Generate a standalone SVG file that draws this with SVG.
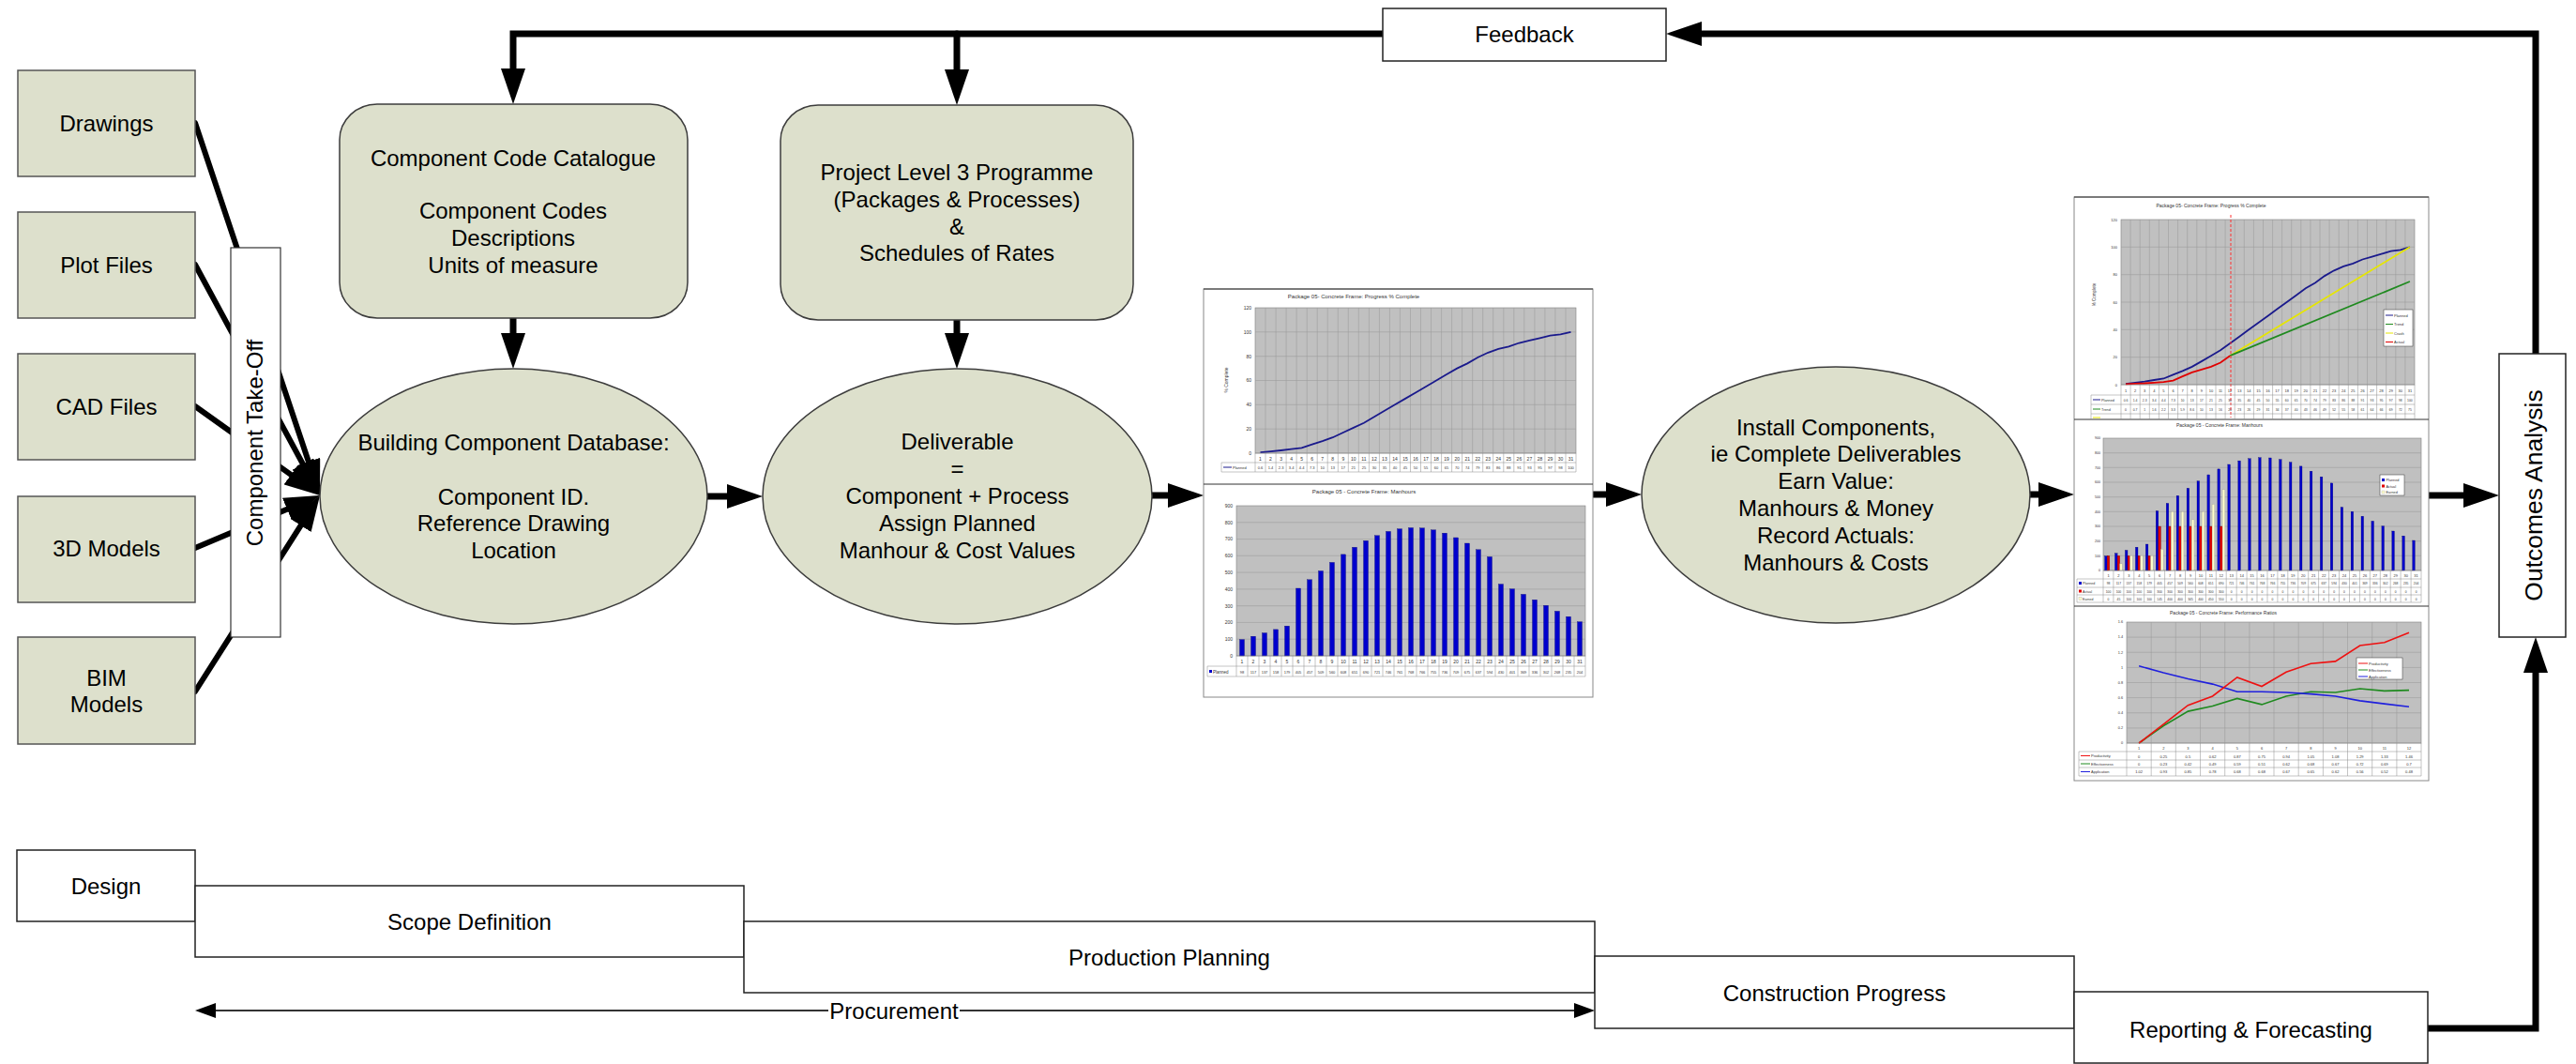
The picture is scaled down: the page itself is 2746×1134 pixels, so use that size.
<svg xmlns="http://www.w3.org/2000/svg" width="2746" height="1134" viewBox="0 0 2746 1134">
<defs>
<style>
.node{fill:#dde0cc;stroke:#3c3c3c;stroke-width:1.5}
.src{fill:#dde0cc;stroke:#555;stroke-width:1.5}
.box{fill:#fff;stroke:#222;stroke-width:1.5}
.lbl{font-family:"Liberation Sans",Arial,sans-serif;font-size:24px;fill:#000;text-anchor:middle}
.conn{fill:none;stroke:#000;stroke-width:7;stroke-linejoin:miter;stroke-linecap:round}
.thin{fill:none;stroke:#333;stroke-width:2}
.frame{fill:#fff;stroke:#888;stroke-width:1}
.pa{fill:#c0c0c0;stroke:#808080;stroke-width:0.6}
.grid{fill:none;stroke:#9c9c9c;stroke-width:0.6}
.tl{fill:none;stroke:#8a8a8a;stroke-width:0.5}
.ct{font-family:"Liberation Sans",Arial,sans-serif;fill:#333;text-anchor:middle}
.ax{font-family:"Liberation Sans",Arial,sans-serif;fill:#333;text-anchor:end}
.lg{font-family:"Liberation Sans",Arial,sans-serif;fill:#333;text-anchor:start}
.bp{fill:#0000cc;stroke:#000066;stroke-width:0.3}
.ba{fill:#e00000;stroke:#600000;stroke-width:0.3}
.be{fill:#ffffcc;stroke:#999;stroke-width:0.3}
</style>
<marker id="ah" markerUnits="userSpaceOnUse" markerWidth="38" markerHeight="26" viewBox="0 0 38 26" refX="0" refY="13" orient="auto"><path d="M0,0L38,13L0,26z" fill="#000"/></marker>
<marker id="ahsE" markerUnits="userSpaceOnUse" markerWidth="22" markerHeight="16" viewBox="0 0 22 16" refX="0" refY="8" orient="auto"><path d="M0,0L22,8L0,16z" fill="#000"/></marker>
<marker id="ahsS" markerUnits="userSpaceOnUse" markerWidth="22" markerHeight="16" viewBox="0 0 22 16" refX="22" refY="8" orient="auto"><path d="M22,0L0,8L22,16z" fill="#000"/></marker>
</defs>
<rect width="2746" height="1134" fill="#fff"/>

<g id="connectors">
<path class="conn" d="M1474,36H547V73" marker-end="url(#ah)"/>
<path class="conn" d="M1020,36V74" marker-end="url(#ah)"/>
<path class="conn" d="M2703,377V36H1814" marker-end="url(#ah)"/>
<path class="conn" d="M2588,1096H2703V717" marker-end="url(#ah)"/>
<path class="conn" d="M547,339V355" marker-end="url(#ah)"/>
<path class="conn" d="M1020,341V355" marker-end="url(#ah)"/>
<path class="conn" d="M754,529H775" marker-end="url(#ah)"/>
<path class="conn" d="M1228,528H1245" marker-end="url(#ah)"/>
<path class="conn" d="M1698,527H1712" marker-end="url(#ah)"/>
<path class="conn" d="M2164,527H2173" marker-end="url(#ah)"/>
<path class="conn" d="M2589,528H2626" marker-end="url(#ah)"/>
<path class="conn" style="stroke-width:6" d="M208,131L328.9,492" marker-end="url(#ah)"/>
<path class="conn" style="stroke-width:6" d="M208,282L322.9,494.6" marker-end="url(#ah)"/>
<path class="conn" style="stroke-width:6" d="M208,433L310.1,505.9" marker-end="url(#ah)"/>
<path class="conn" style="stroke-width:6" d="M208,584L306,542.7" marker-end="url(#ah)"/>
<path class="conn" style="stroke-width:6" d="M208,737L320.6,560.1" marker-end="url(#ah)"/>
<path class="thin" d="M230,1077H1678" marker-start="url(#ahsS)" marker-end="url(#ahsE)"/>
<rect x="883" y="1063" width="140" height="28" fill="#fff"/>
<text class="lbl" x="953" y="1085.5">Procurement</text>
</g>

<g id="drawings"><rect class="src" x="19" y="75" width="189" height="113"/><text class="lbl" x="113.5" y="139.5">Drawings</text></g>
<g id="plot-files"><rect class="src" x="19" y="226" width="189" height="113"/><text class="lbl" x="113.5" y="290.5">Plot Files</text></g>
<g id="cad-files"><rect class="src" x="19" y="377" width="189" height="113"/><text class="lbl" x="113.5" y="441.5">CAD Files</text></g>
<g id="models-3d"><rect class="src" x="19" y="529" width="189" height="113"/><text class="lbl" x="113.5" y="592.5">3D Models</text></g>
<g id="bim-models"><rect class="src" x="19" y="679" width="189" height="114"/><text class="lbl" x="113.5" y="730.5">BIM</text><text class="lbl" x="113.5" y="758.5">Models</text></g>

<g id="take-off"><rect class="box" x="246" y="264" width="53" height="415" style="stroke:#333;stroke-width:1.2"/><text class="lbl" transform="translate(280,472) rotate(-90)">Component Take-Off</text></g>

<g id="catalogue"><rect class="node" x="362" y="111" width="371" height="228" rx="40" ry="38"/>
<text class="lbl" x="547" y="176.5">Component Code Catalogue</text>
<text class="lbl" x="547" y="232.5">Component Codes</text>
<text class="lbl" x="547" y="261.5">Descriptions</text>
<text class="lbl" x="547" y="291">Units of measure</text></g>

<g id="programme"><rect class="node" x="832" y="112" width="376" height="229" rx="40" ry="38"/>
<text class="lbl" x="1020" y="191.5">Project Level 3 Programme</text>
<text class="lbl" x="1020" y="220.5">(Packages &amp; Processes)</text>
<text class="lbl" x="1020" y="249.5">&amp;</text>
<text class="lbl" x="1020" y="277.5">Schedules of Rates</text></g>

<g id="component-db"><ellipse class="node" cx="547.5" cy="529" rx="206.5" ry="136"/>
<text class="lbl" x="547.5" y="479.5">Building Component Database:</text>
<text class="lbl" x="547.5" y="537.5">Component ID.</text>
<text class="lbl" x="547.5" y="565.5">Reference Drawing</text>
<text class="lbl" x="547.5" y="594.5">Location</text></g>

<g id="deliverable"><ellipse class="node" cx="1020.5" cy="529" rx="207.5" ry="136"/>
<text class="lbl" x="1020.5" y="478.5">Deliverable</text>
<text class="lbl" x="1020.5" y="507.5">=</text>
<text class="lbl" x="1020.5" y="536.5">Component + Process</text>
<text class="lbl" x="1020.5" y="565.5">Assign Planned</text>
<text class="lbl" x="1020.5" y="594.5">Manhour &amp; Cost Values</text></g>

<g id="install"><ellipse class="node" cx="1957" cy="527.5" rx="207" ry="136.5"/>
<text class="lbl" x="1957" y="463.5">Install Components,</text>
<text class="lbl" x="1957" y="492">ie Complete Deliverables</text>
<text class="lbl" x="1957" y="521">Earn Value:</text>
<text class="lbl" x="1957" y="550">Manhours &amp; Money</text>
<text class="lbl" x="1957" y="579">Record Actuals:</text>
<text class="lbl" x="1957" y="607.5">Manhours &amp; Costs</text></g>

<g id="feedback"><rect class="box" x="1474" y="9" width="302" height="56"/><text class="lbl" x="1625" y="44.5">Feedback</text></g>
<g id="outcomes"><rect class="box" x="2664" y="377" width="71" height="302"/><text class="lbl" style="font-size:26.5px" transform="translate(2710,528) rotate(-90)">Outcomes Analysis</text></g>

<g id="design"><rect class="box" x="18" y="906" width="190" height="76"/><text class="lbl" x="113" y="952.5">Design</text></g>
<g id="scope"><rect class="box" x="208" y="944" width="585" height="76"/><text class="lbl" x="500.5" y="990.5">Scope Definition</text></g>
<g id="production"><rect class="box" x="793" y="982" width="907" height="76"/><text class="lbl" x="1246.5" y="1028.5">Production Planning</text></g>
<g id="construction"><rect class="box" x="1700" y="1019" width="511" height="77"/><text class="lbl" x="1955.5" y="1066.5">Construction Progress</text></g>
<g id="reporting"><rect class="box" x="2211" y="1057" width="377" height="76"/><text class="lbl" x="2399.5" y="1105.5">Reporting &amp; Forecasting</text></g>

<g id="planned-charts">
<rect class="frame" x="1283" y="308" width="415" height="435"/>
<path d="M1283,308H1698M1283,516H1698" stroke="#333" stroke-width="1.2"/>
<text class="ct" x="1443" y="318" font-size="6">Package 05- Concrete Frame: Progress % Complete</text>
<rect class="pa" x="1338" y="328" width="342" height="155"/>
<path class="grid" d="M1338,457.2H1680M1338,431.3H1680M1338,405.5H1680M1338,379.7H1680M1338,353.8H1680M1349,328V483M1360.1,328V483M1371.1,328V483M1382.1,328V483M1393.2,328V483M1404.2,328V483M1415.2,328V483M1426.3,328V483M1437.3,328V483M1448.3,328V483M1459.4,328V483M1470.4,328V483M1481.4,328V483M1492.4,328V483M1503.5,328V483M1514.5,328V483M1525.5,328V483M1536.6,328V483M1547.6,328V483M1558.6,328V483M1569.7,328V483M1580.7,328V483M1591.7,328V483M1602.8,328V483M1613.8,328V483M1624.8,328V483M1635.9,328V483M1646.9,328V483M1657.9,328V483M1669,328V483"/>
<text class="ax" font-size="5"><tspan x="1334" y="484.8">0</tspan><tspan x="1334" y="459">20</tspan><tspan x="1334" y="433.1">40</tspan><tspan x="1334" y="407.3">60</tspan><tspan x="1334" y="381.5">80</tspan><tspan x="1334" y="355.6">100</tspan><tspan x="1334" y="329.8">120</tspan></text>
<text class="ct" font-size="5" transform="translate(1309,405) rotate(-90)">% Complete</text>
<polyline fill="none" stroke="#1a1a8c" stroke-width="1.8" points="1343.5,482.2 1354.5,481.2 1365.6,480 1376.6,478.6 1387.6,477.3 1398.7,473.6 1409.7,470.1 1420.7,466.2 1431.8,461 1442.8,455.9 1453.9,450.7 1464.9,444.2 1475.9,437.8 1487,431.3 1498,424.9 1509,418.4 1520.1,412 1531.1,405.5 1542.1,399 1553.2,392.6 1564.2,387.4 1575.2,381 1586.3,375.8 1597.3,371.9 1608.3,369.3 1619.4,365.5 1630.4,362.9 1641.5,360.3 1652.5,357.7 1663.5,356.4 1674.5,353.8"/>
<path class="tl" d="M1338,483H1680M1302,493H1680M1302,503H1680M1302,493V503M1338,483V503M1349,483V503M1360.1,483V503M1371.1,483V503M1382.1,483V503M1393.2,483V503M1404.2,483V503M1415.2,483V503M1426.3,483V503M1437.3,483V503M1448.3,483V503M1459.4,483V503M1470.4,483V503M1481.4,483V503M1492.4,483V503M1503.5,483V503M1514.5,483V503M1525.5,483V503M1536.6,483V503M1547.6,483V503M1558.6,483V503M1569.7,483V503M1580.7,483V503M1591.7,483V503M1602.8,483V503M1613.8,483V503M1624.8,483V503M1635.9,483V503M1646.9,483V503M1657.9,483V503M1669,483V503M1680,483V503"/>
<path d="M1304,498H1313" stroke="#1a1a8c" stroke-width="1"/>
<text class="lg" x="1314" y="500" font-size="4">Planned</text>
<text class="ct" font-size="5"><tspan x="1343.5" y="490.5">1</tspan><tspan x="1354.5" y="490.5">2</tspan><tspan x="1365.6" y="490.5">3</tspan><tspan x="1376.6" y="490.5">4</tspan><tspan x="1387.6" y="490.5">5</tspan><tspan x="1398.7" y="490.5">6</tspan><tspan x="1409.7" y="490.5">7</tspan><tspan x="1420.7" y="490.5">8</tspan><tspan x="1431.8" y="490.5">9</tspan><tspan x="1442.8" y="490.5">10</tspan><tspan x="1453.9" y="490.5">11</tspan><tspan x="1464.9" y="490.5">12</tspan><tspan x="1475.9" y="490.5">13</tspan><tspan x="1487" y="490.5">14</tspan><tspan x="1498" y="490.5">15</tspan><tspan x="1509" y="490.5">16</tspan><tspan x="1520.1" y="490.5">17</tspan><tspan x="1531.1" y="490.5">18</tspan><tspan x="1542.1" y="490.5">19</tspan><tspan x="1553.2" y="490.5">20</tspan><tspan x="1564.2" y="490.5">21</tspan><tspan x="1575.2" y="490.5">22</tspan><tspan x="1586.3" y="490.5">23</tspan><tspan x="1597.3" y="490.5">24</tspan><tspan x="1608.3" y="490.5">25</tspan><tspan x="1619.4" y="490.5">26</tspan><tspan x="1630.4" y="490.5">27</tspan><tspan x="1641.5" y="490.5">28</tspan><tspan x="1652.5" y="490.5">29</tspan><tspan x="1663.5" y="490.5">30</tspan><tspan x="1674.5" y="490.5">31</tspan></text>
<text class="ct" font-size="4"><tspan x="1343.5" y="500">0.6</tspan><tspan x="1354.5" y="500">1.4</tspan><tspan x="1365.6" y="500">2.3</tspan><tspan x="1376.6" y="500">3.4</tspan><tspan x="1387.6" y="500">4.4</tspan><tspan x="1398.7" y="500">7.3</tspan><tspan x="1409.7" y="500">10</tspan><tspan x="1420.7" y="500">13</tspan><tspan x="1431.8" y="500">17</tspan><tspan x="1442.8" y="500">21</tspan><tspan x="1453.9" y="500">25</tspan><tspan x="1464.9" y="500">30</tspan><tspan x="1475.9" y="500">35</tspan><tspan x="1487" y="500">40</tspan><tspan x="1498" y="500">45</tspan><tspan x="1509" y="500">50</tspan><tspan x="1520.1" y="500">55</tspan><tspan x="1531.1" y="500">60</tspan><tspan x="1542.1" y="500">65</tspan><tspan x="1553.2" y="500">70</tspan><tspan x="1564.2" y="500">74</tspan><tspan x="1575.2" y="500">79</tspan><tspan x="1586.3" y="500">83</tspan><tspan x="1597.3" y="500">86</tspan><tspan x="1608.3" y="500">88</tspan><tspan x="1619.4" y="500">91</tspan><tspan x="1630.4" y="500">93</tspan><tspan x="1641.5" y="500">95</tspan><tspan x="1652.5" y="500">97</tspan><tspan x="1663.5" y="500">98</tspan><tspan x="1674.5" y="500">100</tspan></text>

<text class="ct" x="1454" y="526" font-size="6">Package 05 - Concrete Frame: Manhours</text>
<rect class="pa" x="1318" y="539" width="372" height="160"/>
<path class="grid" d="M1318,681.2H1690M1318,663.4H1690M1318,645.7H1690M1318,627.9H1690M1318,610.1H1690M1318,592.3H1690M1318,574.6H1690M1318,556.8H1690"/>
<text class="ax" font-size="5"><tspan x="1314" y="700.8">0</tspan><tspan x="1314" y="683">100</tspan><tspan x="1314" y="665.2">200</tspan><tspan x="1314" y="647.5">300</tspan><tspan x="1314" y="629.7">400</tspan><tspan x="1314" y="611.9">500</tspan><tspan x="1314" y="594.1">600</tspan><tspan x="1314" y="576.4">700</tspan><tspan x="1314" y="558.6">800</tspan><tspan x="1314" y="540.8">900</tspan></text>
<g>
<rect class="bp" x="1321.5" y="681.6" width="5" height="17.4"/><rect class="bp" x="1333.5" y="678.2" width="5" height="20.8"/><rect class="bp" x="1345.5" y="674.6" width="5" height="24.4"/><rect class="bp" x="1357.5" y="670.9" width="5" height="28.1"/><rect class="bp" x="1369.5" y="667.2" width="5" height="31.8"/><rect class="bp" x="1381.5" y="627" width="5" height="72"/><rect class="bp" x="1393.5" y="617.8" width="5" height="81.2"/><rect class="bp" x="1405.5" y="608.5" width="5" height="90.5"/><rect class="bp" x="1417.5" y="599.4" width="5" height="99.6"/><rect class="bp" x="1429.5" y="590.9" width="5" height="108.1"/><rect class="bp" x="1441.5" y="583.3" width="5" height="115.7"/><rect class="bp" x="1453.5" y="576.3" width="5" height="122.7"/><rect class="bp" x="1465.5" y="570.8" width="5" height="128.2"/><rect class="bp" x="1477.5" y="566.4" width="5" height="132.6"/><rect class="bp" x="1489.5" y="563.7" width="5" height="135.3"/><rect class="bp" x="1501.5" y="562.5" width="5" height="136.5"/><rect class="bp" x="1513.5" y="562.8" width="5" height="136.2"/><rect class="bp" x="1525.5" y="564.8" width="5" height="134.2"/><rect class="bp" x="1537.5" y="568.2" width="5" height="130.8"/><rect class="bp" x="1549.5" y="573" width="5" height="126"/><rect class="bp" x="1561.5" y="579" width="5" height="120"/><rect class="bp" x="1573.5" y="585.8" width="5" height="113.2"/><rect class="bp" x="1585.5" y="593.4" width="5" height="105.6"/><rect class="bp" x="1597.5" y="622.6" width="5" height="76.4"/><rect class="bp" x="1609.5" y="627.7" width="5" height="71.3"/><rect class="bp" x="1621.5" y="633.4" width="5" height="65.6"/><rect class="bp" x="1633.5" y="639.3" width="5" height="59.7"/><rect class="bp" x="1645.5" y="645.3" width="5" height="53.7"/><rect class="bp" x="1657.5" y="651.4" width="5" height="47.6"/><rect class="bp" x="1669.5" y="657.2" width="5" height="41.8"/><rect class="bp" x="1681.5" y="662.7" width="5" height="36.3"/>
</g>
<path class="tl" d="M1318,699H1690M1287,710H1690M1287,721H1690M1287,710V721M1318,699V721M1330,699V721M1342,699V721M1354,699V721M1366,699V721M1378,699V721M1390,699V721M1402,699V721M1414,699V721M1426,699V721M1438,699V721M1450,699V721M1462,699V721M1474,699V721M1486,699V721M1498,699V721M1510,699V721M1522,699V721M1534,699V721M1546,699V721M1558,699V721M1570,699V721M1582,699V721M1594,699V721M1606,699V721M1618,699V721M1630,699V721M1642,699V721M1654,699V721M1666,699V721M1678,699V721M1690,699V721"/>
<rect x="1289" y="714" width="3" height="3" fill="#0000cc"/>
<text class="lg" x="1293" y="717.5" font-size="4.5">Planned</text>
<text class="ct" font-size="5"><tspan x="1324" y="707">1</tspan><tspan x="1336" y="707">2</tspan><tspan x="1348" y="707">3</tspan><tspan x="1360" y="707">4</tspan><tspan x="1372" y="707">5</tspan><tspan x="1384" y="707">6</tspan><tspan x="1396" y="707">7</tspan><tspan x="1408" y="707">8</tspan><tspan x="1420" y="707">9</tspan><tspan x="1432" y="707">10</tspan><tspan x="1444" y="707">11</tspan><tspan x="1456" y="707">12</tspan><tspan x="1468" y="707">13</tspan><tspan x="1480" y="707">14</tspan><tspan x="1492" y="707">15</tspan><tspan x="1504" y="707">16</tspan><tspan x="1516" y="707">17</tspan><tspan x="1528" y="707">18</tspan><tspan x="1540" y="707">19</tspan><tspan x="1552" y="707">20</tspan><tspan x="1564" y="707">21</tspan><tspan x="1576" y="707">22</tspan><tspan x="1588" y="707">23</tspan><tspan x="1600" y="707">24</tspan><tspan x="1612" y="707">25</tspan><tspan x="1624" y="707">26</tspan><tspan x="1636" y="707">27</tspan><tspan x="1648" y="707">28</tspan><tspan x="1660" y="707">29</tspan><tspan x="1672" y="707">30</tspan><tspan x="1684" y="707">31</tspan></text>
<text class="ct" font-size="4"><tspan x="1324" y="717.5">98</tspan><tspan x="1336" y="717.5">117</tspan><tspan x="1348" y="717.5">137</tspan><tspan x="1360" y="717.5">158</tspan><tspan x="1372" y="717.5">179</tspan><tspan x="1384" y="717.5">405</tspan><tspan x="1396" y="717.5">457</tspan><tspan x="1408" y="717.5">509</tspan><tspan x="1420" y="717.5">560</tspan><tspan x="1432" y="717.5">608</tspan><tspan x="1444" y="717.5">651</tspan><tspan x="1456" y="717.5">690</tspan><tspan x="1468" y="717.5">721</tspan><tspan x="1480" y="717.5">746</tspan><tspan x="1492" y="717.5">761</tspan><tspan x="1504" y="717.5">768</tspan><tspan x="1516" y="717.5">766</tspan><tspan x="1528" y="717.5">755</tspan><tspan x="1540" y="717.5">736</tspan><tspan x="1552" y="717.5">709</tspan><tspan x="1564" y="717.5">675</tspan><tspan x="1576" y="717.5">637</tspan><tspan x="1588" y="717.5">594</tspan><tspan x="1600" y="717.5">430</tspan><tspan x="1612" y="717.5">401</tspan><tspan x="1624" y="717.5">369</tspan><tspan x="1636" y="717.5">336</tspan><tspan x="1648" y="717.5">302</tspan><tspan x="1660" y="717.5">268</tspan><tspan x="1672" y="717.5">235</tspan><tspan x="1684" y="717.5">204</tspan></text>
</g>

<g id="actual-charts">
<rect class="frame" x="2211" y="210" width="378" height="622"/>
<path d="M2211,210H2589M2211,447H2589M2211,646H2589" stroke="#333" stroke-width="1.2"/>
<text class="ct" x="2357" y="221" font-size="5">Package 05- Concrete Frame: Progress % Complete</text>
<rect class="pa" x="2261" y="234" width="313" height="176"/>
<path class="grid" d="M2261,380.7H2574M2261,351.3H2574M2261,322H2574M2261,292.7H2574M2261,263.3H2574M2271.1,234V410M2281.2,234V410M2291.3,234V410M2301.4,234V410M2311.5,234V410M2321.6,234V410M2331.7,234V410M2341.8,234V410M2351.9,234V410M2362,234V410M2372.1,234V410M2382.2,234V410M2392.3,234V410M2402.4,234V410M2412.5,234V410M2422.6,234V410M2432.6,234V410M2442.7,234V410M2452.8,234V410M2462.9,234V410M2473,234V410M2483.1,234V410M2493.2,234V410M2503.3,234V410M2513.4,234V410M2523.5,234V410M2533.6,234V410M2543.7,234V410M2553.8,234V410M2563.9,234V410"/>
<text class="ax" font-size="4"><tspan x="2257" y="411.5">0</tspan><tspan x="2257" y="382.2">20</tspan><tspan x="2257" y="352.8">40</tspan><tspan x="2257" y="323.5">60</tspan><tspan x="2257" y="294.2">80</tspan><tspan x="2257" y="264.8">100</tspan><tspan x="2257" y="235.5">120</tspan></text>
<text class="ct" font-size="4.5" transform="translate(2234,314) rotate(-90)">% Complete</text>
<polyline fill="none" stroke="#1a1a8c" stroke-width="1.8" points="2266,409.1 2276.1,407.9 2286.2,406.6 2296.3,405 2306.4,403.5 2316.5,399.3 2326.6,395.3 2336.7,390.9 2346.8,385.1 2356.9,379.2 2367,373.3 2377.1,366 2387.2,358.7 2397.3,351.3 2407.4,344 2417.5,336.7 2427.6,329.3 2437.7,322 2447.7,314.7 2457.8,307.3 2467.9,301.5 2478,294.1 2488.1,288.3 2498.2,283.9 2508.3,280.9 2518.4,276.5 2528.5,273.6 2538.6,270.7 2548.7,267.7 2558.8,266.3 2568.9,263.3"/>
<polyline fill="none" stroke="#e6e600" stroke-width="1.8" points="2377.1,379.2 2568.9,263.3"/>
<polyline fill="none" stroke="#1f8a1f" stroke-width="1.8" points="2377.1,379.2 2568.9,300"/>
<polyline fill="none" stroke="#e00000" stroke-width="1.8" points="2266,409.3 2276.1,408.8 2286.2,408.5 2296.3,407.8 2306.4,407.1 2316.5,405.6 2326.6,401.2 2336.7,396.8 2346.8,393.9 2356.9,390.9 2367,386.5 2377.1,379.2"/>
<path d="M2378,229V445" stroke="#ff3030" stroke-width="1" stroke-dasharray="3,2"/>
<rect x="2541" y="330" width="31" height="39" fill="#fff" stroke="#333" stroke-width="0.5"/>
<path d="M2543,336H2551" stroke="#1a1a8c" stroke-width="1"/><path d="M2543,345.5H2551" stroke="#1f8a1f" stroke-width="1"/><path d="M2543,355H2551" stroke="#e6e600" stroke-width="1"/><path d="M2543,364.5H2551" stroke="#e00000" stroke-width="1"/>
<text class="lg" font-size="4"><tspan x="2552" y="337.5">Planned</tspan><tspan x="2552" y="347">Trend</tspan><tspan x="2552" y="356.5">Crash</tspan><tspan x="2552" y="366">Actual</tspan></text>
<path class="tl" d="M2261,410H2574M2229,421H2574M2229,431H2574M2229,441H2574M2229,421V447M2261,410V447M2271.1,410V447M2281.2,410V447M2291.3,410V447M2301.4,410V447M2311.5,410V447M2321.6,410V447M2331.7,410V447M2341.8,410V447M2351.9,410V447M2362,410V447M2372.1,410V447M2382.2,410V447M2392.3,410V447M2402.4,410V447M2412.5,410V447M2422.6,410V447M2432.6,410V447M2442.7,410V447M2452.8,410V447M2462.9,410V447M2473,410V447M2483.1,410V447M2493.2,410V447M2503.3,410V447M2513.4,410V447M2523.5,410V447M2533.6,410V447M2543.7,410V447M2553.8,410V447M2563.9,410V447M2574,410V447"/>
<path d="M2231,426H2239" stroke="#1a1a8c" stroke-width="1"/><path d="M2231,436H2239" stroke="#1f8a1f" stroke-width="1"/><path d="M2231,445H2239" stroke="#e6e600" stroke-width="1"/>
<text class="lg" font-size="3.8"><tspan x="2240" y="427.5">Planned</tspan><tspan x="2240" y="437.5">Trend</tspan></text>
<text class="ct" font-size="4"><tspan x="2266" y="417.5">1</tspan><tspan x="2276.1" y="417.5">2</tspan><tspan x="2286.2" y="417.5">3</tspan><tspan x="2296.3" y="417.5">4</tspan><tspan x="2306.4" y="417.5">5</tspan><tspan x="2316.5" y="417.5">6</tspan><tspan x="2326.6" y="417.5">7</tspan><tspan x="2336.7" y="417.5">8</tspan><tspan x="2346.8" y="417.5">9</tspan><tspan x="2356.9" y="417.5">10</tspan><tspan x="2367" y="417.5">11</tspan><tspan x="2377.1" y="417.5">12</tspan><tspan x="2387.2" y="417.5">13</tspan><tspan x="2397.3" y="417.5">14</tspan><tspan x="2407.4" y="417.5">15</tspan><tspan x="2417.5" y="417.5">16</tspan><tspan x="2427.6" y="417.5">17</tspan><tspan x="2437.7" y="417.5">18</tspan><tspan x="2447.7" y="417.5">19</tspan><tspan x="2457.8" y="417.5">20</tspan><tspan x="2467.9" y="417.5">21</tspan><tspan x="2478" y="417.5">22</tspan><tspan x="2488.1" y="417.5">23</tspan><tspan x="2498.2" y="417.5">24</tspan><tspan x="2508.3" y="417.5">25</tspan><tspan x="2518.4" y="417.5">26</tspan><tspan x="2528.5" y="417.5">27</tspan><tspan x="2538.6" y="417.5">28</tspan><tspan x="2548.7" y="417.5">29</tspan><tspan x="2558.8" y="417.5">30</tspan><tspan x="2568.9" y="417.5">31</tspan></text>
<text class="ct" font-size="3.4"><tspan x="2266" y="427.5">0.6</tspan><tspan x="2276.1" y="427.5">1.4</tspan><tspan x="2286.2" y="427.5">2.3</tspan><tspan x="2296.3" y="427.5">3.4</tspan><tspan x="2306.4" y="427.5">4.4</tspan><tspan x="2316.5" y="427.5">7.3</tspan><tspan x="2326.6" y="427.5">10</tspan><tspan x="2336.7" y="427.5">13</tspan><tspan x="2346.8" y="427.5">17</tspan><tspan x="2356.9" y="427.5">21</tspan><tspan x="2367" y="427.5">25</tspan><tspan x="2377.1" y="427.5">30</tspan><tspan x="2387.2" y="427.5">35</tspan><tspan x="2397.3" y="427.5">40</tspan><tspan x="2407.4" y="427.5">45</tspan><tspan x="2417.5" y="427.5">50</tspan><tspan x="2427.6" y="427.5">55</tspan><tspan x="2437.7" y="427.5">60</tspan><tspan x="2447.7" y="427.5">65</tspan><tspan x="2457.8" y="427.5">70</tspan><tspan x="2467.9" y="427.5">74</tspan><tspan x="2478" y="427.5">79</tspan><tspan x="2488.1" y="427.5">83</tspan><tspan x="2498.2" y="427.5">86</tspan><tspan x="2508.3" y="427.5">88</tspan><tspan x="2518.4" y="427.5">91</tspan><tspan x="2528.5" y="427.5">93</tspan><tspan x="2538.6" y="427.5">95</tspan><tspan x="2548.7" y="427.5">97</tspan><tspan x="2558.8" y="427.5">98</tspan><tspan x="2568.9" y="427.5">100</tspan></text>
<text class="ct" font-size="3.4"><tspan x="2266" y="437.5">0</tspan><tspan x="2276.1" y="437.5">0.7</tspan><tspan x="2286.2" y="437.5">1</tspan><tspan x="2296.3" y="437.5">1.6</tspan><tspan x="2306.4" y="437.5">2.2</tspan><tspan x="2316.5" y="437.5">3.3</tspan><tspan x="2326.6" y="437.5">5.9</tspan><tspan x="2336.7" y="437.5">8.6</tspan><tspan x="2346.8" y="437.5">10</tspan><tspan x="2356.9" y="437.5">13</tspan><tspan x="2367" y="437.5">16</tspan><tspan x="2377.1" y="437.5">20</tspan><tspan x="2387.2" y="437.5">23</tspan><tspan x="2397.3" y="437.5">26</tspan><tspan x="2407.4" y="437.5">29</tspan><tspan x="2417.5" y="437.5">31</tspan><tspan x="2427.6" y="437.5">34</tspan><tspan x="2437.7" y="437.5">37</tspan><tspan x="2447.7" y="437.5">40</tspan><tspan x="2457.8" y="437.5">43</tspan><tspan x="2467.9" y="437.5">46</tspan><tspan x="2478" y="437.5">49</tspan><tspan x="2488.1" y="437.5">52</tspan><tspan x="2498.2" y="437.5">55</tspan><tspan x="2508.3" y="437.5">58</tspan><tspan x="2518.4" y="437.5">61</tspan><tspan x="2528.5" y="437.5">64</tspan><tspan x="2538.6" y="437.5">66</tspan><tspan x="2548.7" y="437.5">69</tspan><tspan x="2558.8" y="437.5">72</tspan><tspan x="2568.9" y="437.5">75</tspan></text>

<text class="ct" x="2366" y="455" font-size="5">Package 05 - Concrete Frame: Manhours</text>
<rect class="pa" x="2242" y="467" width="339" height="141"/>
<path class="grid" d="M2242,592.3H2581M2242,576.7H2581M2242,561H2581M2242,545.3H2581M2242,529.7H2581M2242,514H2581M2242,498.3H2581M2242,482.7H2581"/>
<text class="ax" font-size="3.6"><tspan x="2239" y="609.3">0</tspan><tspan x="2239" y="593.6">100</tspan><tspan x="2239" y="578">200</tspan><tspan x="2239" y="562.3">300</tspan><tspan x="2239" y="546.6">400</tspan><tspan x="2239" y="531">500</tspan><tspan x="2239" y="515.3">600</tspan><tspan x="2239" y="499.6">700</tspan><tspan x="2239" y="484">800</tspan><tspan x="2239" y="468.3">900</tspan></text>
<g>
<rect class="bp" x="2243.6" y="592.6" width="2.6" height="15.4"/><rect class="bp" x="2254.5" y="589.7" width="2.6" height="18.3"/><rect class="bp" x="2265.4" y="586.5" width="2.6" height="21.5"/><rect class="bp" x="2276.4" y="583.2" width="2.6" height="24.8"/><rect class="bp" x="2287.3" y="580" width="2.6" height="28"/><rect class="bp" x="2298.2" y="544.5" width="2.6" height="63.5"/><rect class="bp" x="2309.2" y="536.4" width="2.6" height="71.6"/><rect class="bp" x="2320.1" y="528.3" width="2.6" height="79.7"/><rect class="bp" x="2331.1" y="520.3" width="2.6" height="87.7"/><rect class="bp" x="2342" y="512.7" width="2.6" height="95.3"/><rect class="bp" x="2352.9" y="506" width="2.6" height="102"/><rect class="bp" x="2363.9" y="499.9" width="2.6" height="108.1"/><rect class="bp" x="2374.8" y="495" width="2.6" height="113"/><rect class="bp" x="2385.8" y="491.1" width="2.6" height="116.9"/><rect class="bp" x="2396.7" y="488.8" width="2.6" height="119.2"/><rect class="bp" x="2407.6" y="487.7" width="2.6" height="120.3"/><rect class="bp" x="2418.6" y="488" width="2.6" height="120"/><rect class="bp" x="2429.5" y="489.7" width="2.6" height="118.3"/><rect class="bp" x="2440.4" y="492.7" width="2.6" height="115.3"/><rect class="bp" x="2451.4" y="496.9" width="2.6" height="111.1"/><rect class="bp" x="2462.3" y="502.2" width="2.6" height="105.8"/><rect class="bp" x="2473.3" y="508.2" width="2.6" height="99.8"/><rect class="bp" x="2484.2" y="514.9" width="2.6" height="93.1"/><rect class="bp" x="2495.1" y="540.6" width="2.6" height="67.4"/><rect class="bp" x="2506.1" y="545.2" width="2.6" height="62.8"/><rect class="bp" x="2517" y="550.2" width="2.6" height="57.8"/><rect class="bp" x="2527.9" y="555.4" width="2.6" height="52.6"/><rect class="bp" x="2538.9" y="560.7" width="2.6" height="47.3"/><rect class="bp" x="2549.8" y="566" width="2.6" height="42"/><rect class="bp" x="2560.8" y="571.2" width="2.6" height="36.8"/><rect class="bp" x="2571.7" y="576" width="2.6" height="32"/>
<rect class="ba" x="2246.2" y="592.3" width="2.6" height="15.7"/><rect class="ba" x="2257.1" y="592.3" width="2.6" height="15.7"/><rect class="ba" x="2268" y="592.3" width="2.6" height="15.7"/><rect class="ba" x="2279" y="592.3" width="2.6" height="15.7"/><rect class="ba" x="2289.9" y="592.3" width="2.6" height="15.7"/><rect class="ba" x="2300.8" y="561" width="2.6" height="47"/><rect class="ba" x="2311.8" y="561" width="2.6" height="47"/><rect class="ba" x="2322.7" y="561" width="2.6" height="47"/><rect class="ba" x="2333.7" y="561" width="2.6" height="47"/><rect class="ba" x="2344.6" y="561" width="2.6" height="47"/><rect class="ba" x="2355.5" y="561" width="2.6" height="47"/><rect class="ba" x="2366.5" y="561" width="2.6" height="47"/>
<rect class="be" x="2259.7" y="600.9" width="2.6" height="7.1"/><rect class="be" x="2270.6" y="592.3" width="2.6" height="15.7"/><rect class="be" x="2281.6" y="592.3" width="2.6" height="15.7"/><rect class="be" x="2292.5" y="592.3" width="2.6" height="15.7"/><rect class="be" x="2303.4" y="585.3" width="2.6" height="22.7"/><rect class="be" x="2314.4" y="545.3" width="2.6" height="62.7"/><rect class="be" x="2325.3" y="545.3" width="2.6" height="62.7"/><rect class="be" x="2336.3" y="553.9" width="2.6" height="54.1"/><rect class="be" x="2347.2" y="545.3" width="2.6" height="62.7"/><rect class="be" x="2358.1" y="537.5" width="2.6" height="70.5"/><rect class="be" x="2369.1" y="521.8" width="2.6" height="86.2"/>
</g>
<rect x="2537" y="506" width="26" height="22" fill="#fff" stroke="#333" stroke-width="0.5"/>
<rect x="2539" y="510" width="3" height="3" fill="#0000cc"/><rect x="2539" y="516.5" width="3" height="3" fill="#e00000"/><rect x="2539" y="523" width="3" height="3" fill="#ffffcc" stroke="#999" stroke-width="0.3"/>
<text class="lg" font-size="3.8"><tspan x="2543.5" y="513">Planned</tspan><tspan x="2543.5" y="519.5">Actual</tspan><tspan x="2543.5" y="526">Earned</tspan></text>
<path class="tl" d="M2242,608H2581M2214,617H2581M2214,626H2581M2214,634H2581M2214,642H2581M2214,617V642M2242,608V642M2252.9,608V642M2263.9,608V642M2274.8,608V642M2285.7,608V642M2296.7,608V642M2307.6,608V642M2318.5,608V642M2329.5,608V642M2340.4,608V642M2351.4,608V642M2362.3,608V642M2373.2,608V642M2384.2,608V642M2395.1,608V642M2406,608V642M2417,608V642M2427.9,608V642M2438.8,608V642M2449.8,608V642M2460.7,608V642M2471.6,608V642M2482.6,608V642M2493.5,608V642M2504.5,608V642M2515.4,608V642M2526.3,608V642M2537.3,608V642M2548.2,608V642M2559.1,608V642M2570.1,608V642M2581,608V642"/>
<rect x="2216" y="620" width="3" height="3" fill="#0000cc"/><rect x="2216" y="628.5" width="3" height="3" fill="#e00000"/><rect x="2216" y="636.5" width="3" height="3" fill="#ffffcc" stroke="#999" stroke-width="0.3"/>
<text class="lg" font-size="3.6"><tspan x="2220" y="623">Planned</tspan><tspan x="2220" y="631.5">Actual</tspan><tspan x="2220" y="639.5">Earned</tspan></text>
<text class="ct" font-size="4"><tspan x="2247.5" y="614.5">1</tspan><tspan x="2258.4" y="614.5">2</tspan><tspan x="2269.3" y="614.5">3</tspan><tspan x="2280.3" y="614.5">4</tspan><tspan x="2291.2" y="614.5">5</tspan><tspan x="2302.1" y="614.5">6</tspan><tspan x="2313.1" y="614.5">7</tspan><tspan x="2324" y="614.5">8</tspan><tspan x="2335" y="614.5">9</tspan><tspan x="2345.9" y="614.5">10</tspan><tspan x="2356.8" y="614.5">11</tspan><tspan x="2367.8" y="614.5">12</tspan><tspan x="2378.7" y="614.5">13</tspan><tspan x="2389.7" y="614.5">14</tspan><tspan x="2400.6" y="614.5">15</tspan><tspan x="2411.5" y="614.5">16</tspan><tspan x="2422.5" y="614.5">17</tspan><tspan x="2433.4" y="614.5">18</tspan><tspan x="2444.3" y="614.5">19</tspan><tspan x="2455.3" y="614.5">20</tspan><tspan x="2466.2" y="614.5">21</tspan><tspan x="2477.2" y="614.5">22</tspan><tspan x="2488.1" y="614.5">23</tspan><tspan x="2499" y="614.5">24</tspan><tspan x="2510" y="614.5">25</tspan><tspan x="2520.9" y="614.5">26</tspan><tspan x="2531.8" y="614.5">27</tspan><tspan x="2542.8" y="614.5">28</tspan><tspan x="2553.7" y="614.5">29</tspan><tspan x="2564.7" y="614.5">30</tspan><tspan x="2575.6" y="614.5">31</tspan></text>
<text class="ct" font-size="3.3"><tspan x="2247.5" y="623">98</tspan><tspan x="2258.4" y="623">117</tspan><tspan x="2269.3" y="623">137</tspan><tspan x="2280.3" y="623">158</tspan><tspan x="2291.2" y="623">179</tspan><tspan x="2302.1" y="623">405</tspan><tspan x="2313.1" y="623">457</tspan><tspan x="2324" y="623">509</tspan><tspan x="2335" y="623">560</tspan><tspan x="2345.9" y="623">608</tspan><tspan x="2356.8" y="623">651</tspan><tspan x="2367.8" y="623">690</tspan><tspan x="2378.7" y="623">721</tspan><tspan x="2389.7" y="623">746</tspan><tspan x="2400.6" y="623">761</tspan><tspan x="2411.5" y="623">768</tspan><tspan x="2422.5" y="623">766</tspan><tspan x="2433.4" y="623">755</tspan><tspan x="2444.3" y="623">736</tspan><tspan x="2455.3" y="623">709</tspan><tspan x="2466.2" y="623">675</tspan><tspan x="2477.2" y="623">637</tspan><tspan x="2488.1" y="623">594</tspan><tspan x="2499" y="623">430</tspan><tspan x="2510" y="623">401</tspan><tspan x="2520.9" y="623">369</tspan><tspan x="2531.8" y="623">336</tspan><tspan x="2542.8" y="623">302</tspan><tspan x="2553.7" y="623">268</tspan><tspan x="2564.7" y="623">235</tspan><tspan x="2575.6" y="623">204</tspan></text>
<text class="ct" font-size="3.3"><tspan x="2247.5" y="631.5">100</tspan><tspan x="2258.4" y="631.5">100</tspan><tspan x="2269.3" y="631.5">100</tspan><tspan x="2280.3" y="631.5">100</tspan><tspan x="2291.2" y="631.5">100</tspan><tspan x="2302.1" y="631.5">300</tspan><tspan x="2313.1" y="631.5">300</tspan><tspan x="2324" y="631.5">300</tspan><tspan x="2335" y="631.5">300</tspan><tspan x="2345.9" y="631.5">300</tspan><tspan x="2356.8" y="631.5">300</tspan><tspan x="2367.8" y="631.5">300</tspan><tspan x="2378.7" y="631.5">0</tspan><tspan x="2389.7" y="631.5">0</tspan><tspan x="2400.6" y="631.5">0</tspan><tspan x="2411.5" y="631.5">0</tspan><tspan x="2422.5" y="631.5">0</tspan><tspan x="2433.4" y="631.5">0</tspan><tspan x="2444.3" y="631.5">0</tspan><tspan x="2455.3" y="631.5">0</tspan><tspan x="2466.2" y="631.5">0</tspan><tspan x="2477.2" y="631.5">0</tspan><tspan x="2488.1" y="631.5">0</tspan><tspan x="2499" y="631.5">0</tspan><tspan x="2510" y="631.5">0</tspan><tspan x="2520.9" y="631.5">0</tspan><tspan x="2531.8" y="631.5">0</tspan><tspan x="2542.8" y="631.5">0</tspan><tspan x="2553.7" y="631.5">0</tspan><tspan x="2564.7" y="631.5">0</tspan><tspan x="2575.6" y="631.5">0</tspan></text>
<text class="ct" font-size="3.3"><tspan x="2247.5" y="639.5">0</tspan><tspan x="2258.4" y="639.5">45</tspan><tspan x="2269.3" y="639.5">100</tspan><tspan x="2280.3" y="639.5">100</tspan><tspan x="2291.2" y="639.5">100</tspan><tspan x="2302.1" y="639.5">145</tspan><tspan x="2313.1" y="639.5">400</tspan><tspan x="2324" y="639.5">400</tspan><tspan x="2335" y="639.5">345</tspan><tspan x="2345.9" y="639.5">400</tspan><tspan x="2356.8" y="639.5">450</tspan><tspan x="2367.8" y="639.5">550</tspan><tspan x="2378.7" y="639.5">0</tspan><tspan x="2389.7" y="639.5">0</tspan><tspan x="2400.6" y="639.5">0</tspan><tspan x="2411.5" y="639.5">0</tspan><tspan x="2422.5" y="639.5">0</tspan><tspan x="2433.4" y="639.5">0</tspan><tspan x="2444.3" y="639.5">0</tspan><tspan x="2455.3" y="639.5">0</tspan><tspan x="2466.2" y="639.5">0</tspan><tspan x="2477.2" y="639.5">0</tspan><tspan x="2488.1" y="639.5">0</tspan><tspan x="2499" y="639.5">0</tspan><tspan x="2510" y="639.5">0</tspan><tspan x="2520.9" y="639.5">0</tspan><tspan x="2531.8" y="639.5">0</tspan><tspan x="2542.8" y="639.5">0</tspan><tspan x="2553.7" y="639.5">0</tspan><tspan x="2564.7" y="639.5">0</tspan><tspan x="2575.6" y="639.5">0</tspan></text>

<text class="ct" x="2370" y="655" font-size="5">Package 05 - Concrete Frame: Performance Ratios</text>
<rect class="pa" x="2267" y="663" width="314" height="129"/>
<path class="grid" d="M2267,775.9H2581M2267,759.75H2581M2267,743.6H2581M2267,727.5H2581M2267,711.4H2581M2267,695.25H2581M2267,679.1H2581M2293.2,663V792M2319.3,663V792M2345.5,663V792M2371.7,663V792M2397.9,663V792M2424,663V792M2450.2,663V792M2476.4,663V792M2502.5,663V792M2528.7,663V792M2554.9,663V792"/>
<text class="ax" font-size="3.8"><tspan x="2263" y="793.3">0</tspan><tspan x="2263" y="777.2">0.2</tspan><tspan x="2263" y="761">0.4</tspan><tspan x="2263" y="744.9">0.6</tspan><tspan x="2263" y="728.8">0.8</tspan><tspan x="2263" y="712.7">1</tspan><tspan x="2263" y="696.5">1.2</tspan><tspan x="2263" y="680.4">1.4</tspan><tspan x="2263" y="664.3">1.6</tspan></text>
<polyline fill="none" stroke="#1f8a1f" stroke-width="1.6" points="2280.1,792 2306.3,773.5 2332.4,758.1 2358.6,752.5 2384.8,744.4 2411,750.9 2437.1,742 2463.3,737.2 2489.5,738 2515.7,734 2541.8,736.4 2568,735.6"/>
<polyline fill="none" stroke="#2020dd" stroke-width="1.6" points="2280.1,709.8 2306.3,717 2332.4,723.5 2358.6,729.1 2384.8,737.2 2411,737.2 2437.1,738 2463.3,739.6 2489.5,742 2515.7,746.9 2541.8,750.1 2568,753.3"/>
<polyline fill="none" stroke="#ee1111" stroke-width="1.6" points="2280.1,792 2306.3,771.8 2332.4,751.7 2358.6,742 2384.8,721.9 2411,731.5 2437.1,716.2 2463.3,707.3 2489.5,704.9 2515.7,688 2541.8,684.8 2568,674.3"/>
<rect x="2512" y="701" width="49" height="23" fill="#fff" stroke="#333" stroke-width="0.5"/>
<path d="M2514,707H2524" stroke="#ee1111" stroke-width="1"/><path d="M2514,714H2524" stroke="#1f8a1f" stroke-width="1"/><path d="M2514,721H2524" stroke="#2020dd" stroke-width="1"/>
<text class="lg" font-size="4"><tspan x="2525" y="708.5">Productivity</tspan><tspan x="2525" y="715.5">Effectiveness</tspan><tspan x="2525" y="722.5">Application</tspan></text>
<path class="tl" d="M2267,792H2581M2216,801H2581M2216,810H2581M2216,818H2581M2216,827H2581M2216,801V827M2267,792V827M2293.2,792V827M2319.3,792V827M2345.5,792V827M2371.7,792V827M2397.9,792V827M2424,792V827M2450.2,792V827M2476.4,792V827M2502.5,792V827M2528.7,792V827M2554.9,792V827M2581,792V827"/>
<path d="M2218,805.5H2228" stroke="#ee1111" stroke-width="1"/><path d="M2218,814H2228" stroke="#1f8a1f" stroke-width="1"/><path d="M2218,822.5H2228" stroke="#2020dd" stroke-width="1"/>
<text class="lg" font-size="4"><tspan x="2229" y="807">Productivity</tspan><tspan x="2229" y="815.5">Effectiveness</tspan><tspan x="2229" y="824">Application</tspan></text>
<text class="ct" font-size="4"><tspan x="2280.1" y="799">1</tspan><tspan x="2306.3" y="799">2</tspan><tspan x="2332.4" y="799">3</tspan><tspan x="2358.6" y="799">4</tspan><tspan x="2384.8" y="799">5</tspan><tspan x="2411" y="799">6</tspan><tspan x="2437.1" y="799">7</tspan><tspan x="2463.3" y="799">8</tspan><tspan x="2489.5" y="799">9</tspan><tspan x="2515.7" y="799">10</tspan><tspan x="2541.8" y="799">11</tspan><tspan x="2568" y="799">12</tspan></text>
<text class="ct" font-size="4"><tspan x="2280.1" y="807.5">0</tspan><tspan x="2306.3" y="807.5">0.25</tspan><tspan x="2332.4" y="807.5">0.5</tspan><tspan x="2358.6" y="807.5">0.62</tspan><tspan x="2384.8" y="807.5">0.87</tspan><tspan x="2411" y="807.5">0.75</tspan><tspan x="2437.1" y="807.5">0.94</tspan><tspan x="2463.3" y="807.5">1.05</tspan><tspan x="2489.5" y="807.5">1.08</tspan><tspan x="2515.7" y="807.5">1.29</tspan><tspan x="2541.8" y="807.5">1.33</tspan><tspan x="2568" y="807.5">1.46</tspan></text>
<text class="ct" font-size="4"><tspan x="2280.1" y="815.5">0</tspan><tspan x="2306.3" y="815.5">0.23</tspan><tspan x="2332.4" y="815.5">0.42</tspan><tspan x="2358.6" y="815.5">0.49</tspan><tspan x="2384.8" y="815.5">0.59</tspan><tspan x="2411" y="815.5">0.51</tspan><tspan x="2437.1" y="815.5">0.62</tspan><tspan x="2463.3" y="815.5">0.68</tspan><tspan x="2489.5" y="815.5">0.67</tspan><tspan x="2515.7" y="815.5">0.72</tspan><tspan x="2541.8" y="815.5">0.69</tspan><tspan x="2568" y="815.5">0.7</tspan></text>
<text class="ct" font-size="4"><tspan x="2280.1" y="824">1.02</tspan><tspan x="2306.3" y="824">0.93</tspan><tspan x="2332.4" y="824">0.85</tspan><tspan x="2358.6" y="824">0.78</tspan><tspan x="2384.8" y="824">0.68</tspan><tspan x="2411" y="824">0.68</tspan><tspan x="2437.1" y="824">0.67</tspan><tspan x="2463.3" y="824">0.65</tspan><tspan x="2489.5" y="824">0.62</tspan><tspan x="2515.7" y="824">0.56</tspan><tspan x="2541.8" y="824">0.52</tspan><tspan x="2568" y="824">0.48</tspan></text>
</g>
</svg>
